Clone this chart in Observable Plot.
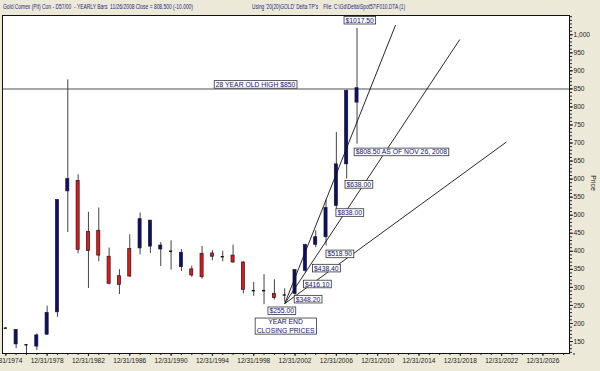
<!DOCTYPE html>
<html><head><meta charset="utf-8">
<script src="https://cdn.jsdelivr.net/npm/d3@7"></script>
<script src="https://cdn.jsdelivr.net/npm/@observablehq/plot@0.6"></script>
<style>
html,body{margin:0;padding:0;background:#ECE9D8;}
#wrap{width:600px;height:371px;position:relative;overflow:hidden;font-family:"Liberation Sans",Arial,sans-serif;}
#title{height:14px;position:relative;color:#1c2a78;font-size:6.6px;white-space:pre;}
#title span{position:absolute;top:3px;display:inline-block;transform-origin:0 50%;}
#price{position:absolute;left:593px;top:183px;transform:translate(-50%,-50%) rotate(90deg);font-size:6.8px;color:#222;}
#chart svg{display:block;}
</style></head><body>
<div id="wrap">
<div id="title"><span id="t1" style="left:3px">Gold Comex (Pit) Con - D57/00  - YEARLY Bars  11/26/2008 Close = 808.500 (-10.000)</span><span id="t2" style="left:252px">Using '20(20)GOLD' Delta TP's    File: C:\Gd\Delta\Spot57\F010.DTA (1)</span></div>
<div id="chart"></div>
<div id="price">Price</div>
</div>
<script>
// yearly bars, dated 12/31 of each year
const years  = [1974,1975,1976,1977,1978,1979,1980,1981,1982,1983,1984,1985,1986,1987,1988,1989,1990,1991,1992,1993,1994,1995,1996,1997,1998,1999,2000,2001,2002,2003,2004,2005,2006,2007,2008];
const opens  = [187, 142, 141, 136, 169, 231, 566, 595, 454, 457, 385, 331, 406, 408, 413, 405, 400, 356, 350, 393, 394, 385, 388, 369, 291, 291, 282, 279, 282, 346, 418, 439, 526, 641, 812];
const highs  = [189, 182, 141, 171, 248, 542, 875, 612, 508, 520, 409, 349, 446, 506, 485, 424, 429, 405, 359, 413, 402, 400, 417, 371, 314, 335, 321, 296, 348, 418, 457, 542, 729, 847,1017.5];
const lows   = [185, 130, 110, 125, 167, 217, 452, 393, 297, 371, 307, 280, 328, 390, 394, 358, 348, 344, 328, 323, 374, 371, 367, 282, 275, 252, 265, 259, 278, 340, 410, 415, 512, 600, 697];
const closes = [187, 182, 141, 167, 229, 542, 600, 404, 401, 388, 310, 307, 330, 489, 485, 416, 400, 396, 333, 328, 385, 385, 369, 293, 291, 291, 271, 279, 348, 418, 439, 520, 641, 844, 852];

// x-axis tick years (labels read 12/31/YYYY)
const tickYears = [1974,1978,1982,1986,1990,1994,1998,2002,2006,2010,2014,2018,2022,2026];
const priceTicks = d3.range(150, 1001, 50);

// 28-year-old high
const oldHigh = 850;
// fan lines from the 2001 year-end low
const fanStartYear = 2002.0, fanStartPrice = 255;
const fanEndYears  = [2012.73, 2018.95, 2023.47];
const fanEndPrices = [1027, 987, 703];

// boxed annotations (anchor year as fractional year, price)
const noteTexts  = ["$1017.50","28 YEAR OLD HIGH $850","$808.50 AS OF NOV 26, 2008","$638.00","$838.00","$518.90","$438.40","$416.10","$348.20","$255.00","YEAR END\nCLOSING PRICES"];
const noteYears  = [2009.26, 1999.17, 2013.29, 2009.17, 2008.29, 2007.33, 2006.03, 2005.15, 2004.25, 2001.71, 2002.08];
const notePrices = [1041, 863, 676, 586, 508, 393.4, 354, 310, 268, 235.8, 193.4];

const yearEnd = y => new Date(Date.UTC(y, 11, 31));
const fracDate = f => new Date(Date.UTC(1975,0,1) + (f - 1975) * 365.25 * 864e5);

const bars = years.map((y,i) => ({date: yearEnd(y), open: opens[i], high: highs[i], low: lows[i], close: closes[i]}));
const flats = bars.filter(d => Math.abs(d.open - d.close) < 1);
const fans = fanEndYears.map((f,i) => ({x1: fracDate(fanStartYear), y1: fanStartPrice, x2: fracDate(f), y2: fanEndPrices[i]}));
const notes = noteTexts.map((t,i) => ({text: t, date: fracDate(noteYears[i]), price: notePrices[i]}));
const halfW = d => [d3.utcDay.offset(d.date, -55), d3.utcDay.offset(d.date, 55)];

const chart = Plot.plot({
  width: 600, height: 357,
  marginTop: 1, marginBottom: 18, marginLeft: 2, marginRight: 31,
  style: {background: "transparent", fontFamily: "'Liberation Sans', Arial, sans-serif", fontSize: "6.6px", color: "#222"},
  x: {type: "utc", domain: [new Date(Date.UTC(1974,8,5)), new Date(Date.UTC(2029,6,27))]},
  y: {domain: [116.8, 1053.4]},
  marks: [
    Plot.frame({fill: "white"}),
    Plot.axisX({ticks: d3.utcYear.range(new Date(Date.UTC(1974,0,1)), new Date(Date.UTC(2030,0,1))).map(d => yearEnd(d.getUTCFullYear())), tickSize: 2, tickFormat: () => "", label: null}),
    Plot.axisX({ticks: tickYears.map(yearEnd), tickFormat: d3.utcFormat("%m/%d/%Y"), tickSize: 3, tickPadding: 2, label: null, fill: "#222"}),
    Plot.axisY({anchor: "right", ticks: d3.range(120, 1051, 10), tickSize: 2, tickFormat: () => "", label: null}),
    Plot.axisY({anchor: "right", ticks: priceTicks, tickFormat: d3.format(","), tickSize: 3, tickPadding: 1, label: null, fill: "#222"}),
    Plot.ruleY([oldHigh], {stroke: "#8a8a8a", strokeWidth: 1.5}),
    Plot.ruleX(bars, {x: "date", y1: "low", y2: "high", stroke: "#444", strokeWidth: 1, clip: true}),
    Plot.rect(bars, {x1: d => halfW(d)[0], x2: d => halfW(d)[1], y1: "open", y2: "close",
      fill: d => d.close > d.open ? "#0d0d78" : "#e4161c", stroke: "#1a1a1a", strokeWidth: 0.7}),
    Plot.ruleY(flats, {y: "close", x1: d => halfW(d)[0], x2: d => halfW(d)[1], stroke: "#111", strokeWidth: 1.4}),
    Plot.link(fans, {x1: "x1", y1: "y1", x2: "x2", y2: "y2", stroke: "#111", strokeWidth: 0.9}),
    Plot.text(notes, {x: "date", y: "price", text: "text", fill: "#10107a", fontSize: 6.8, lineHeight: 1.25}),
    Plot.frame({stroke: "#111", strokeWidth: 1})
  ]
});
document.getElementById("chart").appendChild(chart);

// fit title parts to the reference widths
function fit(id, w) {
  const el = document.getElementById(id);
  const cw = el.getBoundingClientRect().width;
  if (cw > 0) el.style.transform = "scaleX(" + (w / cw) + ")";
}
fit("t1", 190); fit("t2", 153);

// white boxes behind annotation texts
const wanted = new Set(noteTexts.map(t => t.replace("\n", "")));
chart.querySelectorAll("text").forEach(t => {
  if (!wanted.has(t.textContent)) return;
  const b = t.getBBox();
  const r = document.createElementNS("http://www.w3.org/2000/svg", "rect");
  r.setAttribute("x", b.x - 1.5); r.setAttribute("y", b.y - 0.3);
  r.setAttribute("width", b.width + 3); r.setAttribute("height", b.height + 0.6);
  r.setAttribute("fill", "white"); r.setAttribute("stroke", "#333"); r.setAttribute("stroke-width", "0.8");
  const tr = t.getAttribute("transform");
  if (tr) r.setAttribute("transform", tr);
  t.parentNode.insertBefore(r, t);
});
</script>
</body></html>
